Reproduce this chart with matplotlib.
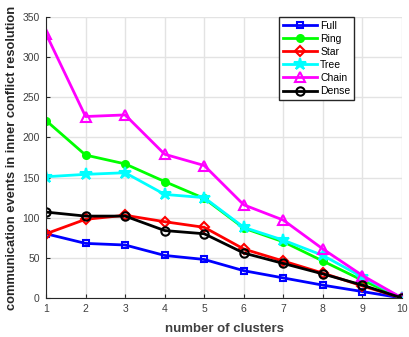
import matplotlib.pyplot as plt

clusters = [1, 2, 3, 4, 5, 6, 7, 8, 9, 10]
full = [80, 68, 66, 53, 48, 34, 25, 16, 8, 0]
ring = [221, 178, 167, 145, 124, 87, 70, 46, 22, 0]
star = [80, 98, 103, 95, 88, 61, 46, 31, 15, 0]
tree = [151, 154, 156, 129, 125, 88, 72, 53, 26, 0]
chain = [329, 226, 228, 179, 165, 116, 97, 61, 28, 0]
dense = [107, 102, 102, 84, 80, 56, 43, 30, 16, 0]

plt.rcParams['font.family'] = ['Liberation Sans', 'DejaVu Sans']

fig = plt.figure(figsize=(4.09, 3.37), dpi=100)
ax = fig.add_axes([0.1125, 0.1157, 0.8705, 0.834])

styles = [
    ('Full', full, 'blue', 's', 'none', 5),
    ('Ring', ring, '#00ff00', 'o', '#00ff00', 5),
    ('Star', star, 'red', 'D', 'none', 5),
    ('Tree', tree, 'cyan', '*', 'cyan', 9),
    ('Chain', chain, 'magenta', '^', 'none', 7),
    ('Dense', dense, 'black', 'o', 'none', 6),
]
for name, vals, col, mk, mfc, ms in styles:
    ax.plot(clusters, vals, color=col, lw=2, marker=mk, ms=ms,
            mfc=mfc, mec=col, mew=1.5, label=name)

ax.set_xlim(1, 10)
ax.set_ylim(0, 350)
ax.set_xticks(range(1, 11))
ax.set_yticks(range(0, 351, 50))
ax.grid(True, color='#e3e3e3', lw=1)
ax.set_axisbelow(True)
for s in ['top', 'right']:
    ax.spines[s].set_visible(False)
for s in ['left', 'bottom']:
    ax.spines[s].set_color('#262626')
ax.tick_params(labelsize=7.5, colors='#262626', direction='in', length=3, pad=4.5)
for lbl in ax.get_xticklabels() + ax.get_yticklabels():
    lbl.set_color('#404040')
ax.set_xlabel('number of clusters', fontsize=9.5, fontweight='bold',
              color='#404040', labelpad=6)
ax.set_ylabel('communication events in inner conflict resolution', fontsize=9.3,
              fontweight='bold', color='#262626', labelpad=3)

leg = ax.legend(loc='upper right', bbox_to_anchor=(0.865, 1.0), fontsize=7.5,
                handlelength=3.3, handletextpad=0.3, labelspacing=0.3,
                borderpad=0.35, fancybox=False, framealpha=1, borderaxespad=0)
leg.get_frame().set_edgecolor('#262626')
leg.get_frame().set_linewidth(1)

fig.savefig('out.png', dpi=100)
